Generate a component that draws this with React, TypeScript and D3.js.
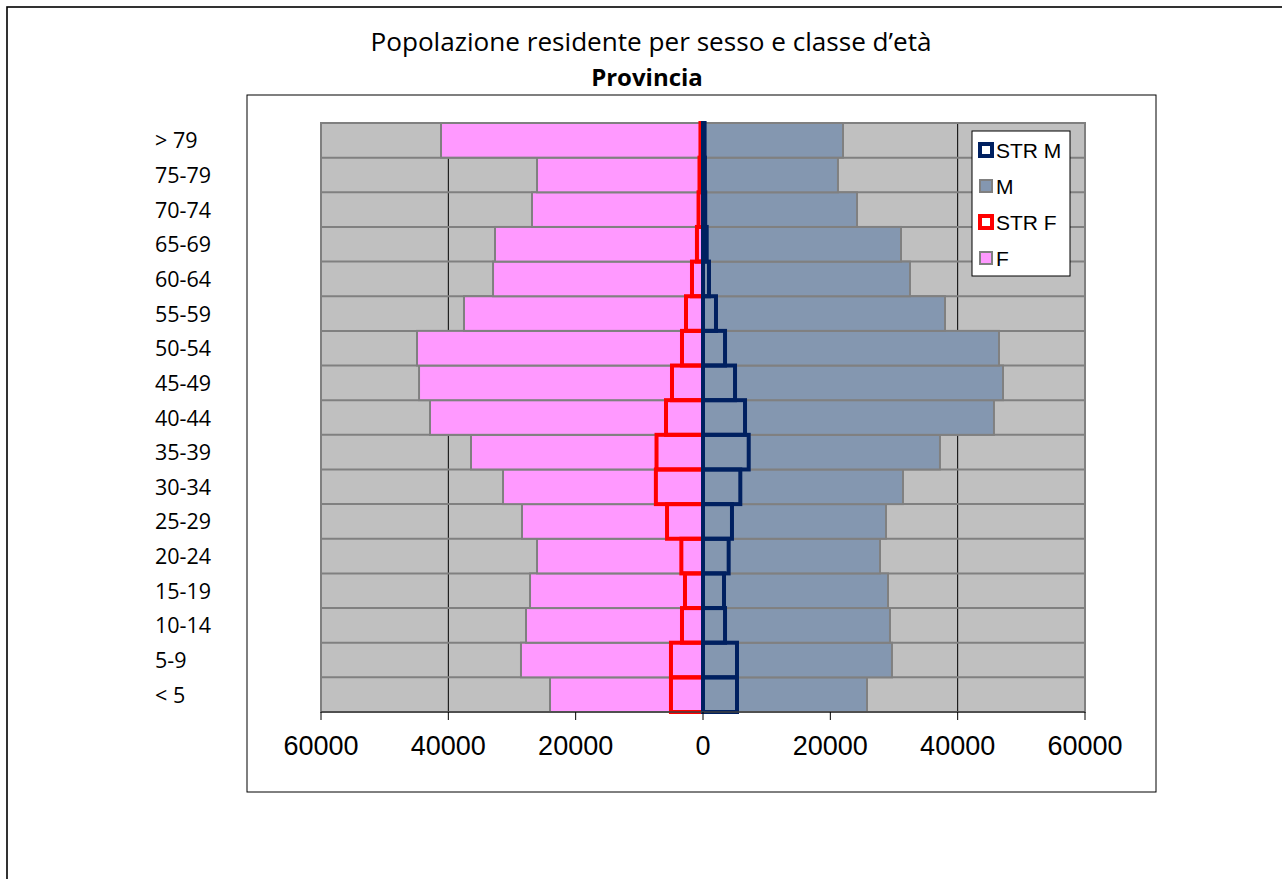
import React from "react";
import * as d3 from "d3";

const ages = ["< 5", "5-9", "10-14", "15-19", "20-24", "25-29", "30-34", "35-39", "40-44", "45-49", "50-54", "55-59", "60-64", "65-69", "70-74", "75-79", "> 79"];
const femmine = [24030, 28590, 27800, 27170, 26070, 28430, 31410, 36440, 42880, 44600, 44920, 37540, 32980, 32670, 26860, 26070, 41150];
const maschi = [25760, 29680, 29370, 29060, 27800, 28740, 31410, 37220, 45700, 47120, 46490, 38010, 32510, 31100, 24190, 21200, 21990];
const strF = [5030, 5030, 3300, 2830, 3400, 5650, 7400, 7300, 5810, 4870, 3300, 2670, 1730, 950, 700, 550, 400];
const strM = [5340, 5340, 3460, 3300, 4030, 4550, 5860, 7180, 6600, 5030, 3460, 2040, 940, 580, 350, 300, 250];
const xTicks = [-60000, -40000, -20000, 0, 20000, 40000, 60000];
const legendItems = ["STR M", "M", "STR F", "F"];

const COL_F = "#FF99FF";
const COL_M = "#8497B0";
const COL_STRF = "#FF0000";
const COL_STRM = "#002060";

export default function App() {
  const x = d3.scaleLinear().domain([-60000, 60000]).range([321, 1085]);
  const y = d3.scaleBand<string>().domain([...ages].reverse()).range([123, 712]).padding(0);
  const bw = y.bandwidth();
  const x0 = x(0);
  const sans = "'Liberation Sans', Arial, sans-serif";
  const cal = "'Open Sans', 'Noto Sans', sans-serif";

  const legendStyle = [
    { fill: "white", stroke: COL_STRM, sw: 4 },
    { fill: COL_M, stroke: "#808080", sw: 2 },
    { fill: "white", stroke: COL_STRF, sw: 4 },
    { fill: COL_F, stroke: "#808080", sw: 2 },
  ];

  return (
    <svg width={1282} height={879} style={{ position: "absolute", left: 0, top: 0, display: "block" }}>
      <rect x={0} y={0} width={1282} height={879} fill="white" />
      <rect x={7} y={7} width={1400} height={1000} fill="white" stroke="#000" strokeWidth={1.6} />
      <text x={651} y={51} textAnchor="middle" fontFamily={cal} fontSize={25.5} fill="#000" textLength={561} lengthAdjust="spacingAndGlyphs">
        Popolazione residente per sesso e classe d’età
      </text>
      <text x={647} y={86} textAnchor="middle" fontFamily={cal} fontSize={24} fontWeight="bold" fill="#000">
        Provincia
      </text>
      <rect x={247} y={95} width={909} height={697} fill="white" stroke="#000" strokeWidth={1} />
      <rect x={x(-60000)} y={123} width={x(60000) - x(-60000)} height={712 - 123} fill="#C0C0C0" />
      {xTicks.map((t) => (
        <line key={"g" + t} x1={x(t)} x2={x(t)} y1={123} y2={712} stroke="#000" strokeWidth={1} />
      ))}
      {ages.map((a) => (
        <line key={"h" + a} x1={x(-60000)} x2={x(60000)} y1={(y(a) as number)} y2={(y(a) as number)} stroke="#808080" strokeWidth={2} />
      ))}
      <rect x={x(-60000)} y={123} width={x(60000) - x(-60000)} height={712 - 123} fill="none" stroke="#808080" strokeWidth={2} />
      {ages.map((a, i) => (
        <rect key={"m" + a} x={x0} y={y(a)} width={x(maschi[i]) - x0} height={bw} fill={COL_M} stroke="#808080" strokeWidth={2} />
      ))}
      {ages.map((a, i) => (
        <rect key={"f" + a} x={x(-femmine[i])} y={y(a)} width={x0 - x(-femmine[i])} height={bw} fill={COL_F} stroke="#808080" strokeWidth={2} />
      ))}
      {ages.map((a, i) => (
        <rect key={"sf" + a} x={x(-strF[i])} y={y(a)} width={x0 - x(-strF[i])} height={bw} fill="none" stroke={COL_STRF} strokeWidth={4} />
      ))}
      {ages.map((a, i) => (
        <rect key={"sm" + a} x={x0} y={y(a)} width={x(strM[i]) - x0} height={bw} fill="none" stroke={COL_STRM} strokeWidth={4} />
      ))}
      <line x1={x(-60000)} x2={x(60000)} y1={712} y2={712} stroke="#404040" strokeWidth={1.5} />
      {xTicks.map((t) => (
        <g key={"t" + t}>
          <line x1={x(t)} x2={x(t)} y1={712} y2={720} stroke="#000" strokeWidth={1} />
          <text x={x(t)} y={755} textAnchor="middle" fontFamily={sans} fontSize={27} fill="#000">
            {Math.abs(t)}
          </text>
        </g>
      ))}
      {ages.map((a) => (
        <text key={"l" + a} x={155} y={(y(a) as number) + bw / 2 + 8} fontFamily={cal} fontSize={21.5} fill="#000">
          {a}
        </text>
      ))}
      <rect x={972} y={131} width={98} height={145} fill="white" stroke="#000" strokeWidth={1} />
      {legendItems.map((name, i) => {
        const cy = 150 + i * 36;
        const s = legendStyle[i];
        return (
          <g key={name}>
            <rect x={980} y={cy - 6} width={12} height={12} fill={s.fill} stroke={s.stroke} strokeWidth={s.sw} />
            <text x={996} y={cy + 8} fontFamily={sans} fontSize={21} fill="#000">
              {name}
            </text>
          </g>
        );
      })}
    </svg>
  );
}
